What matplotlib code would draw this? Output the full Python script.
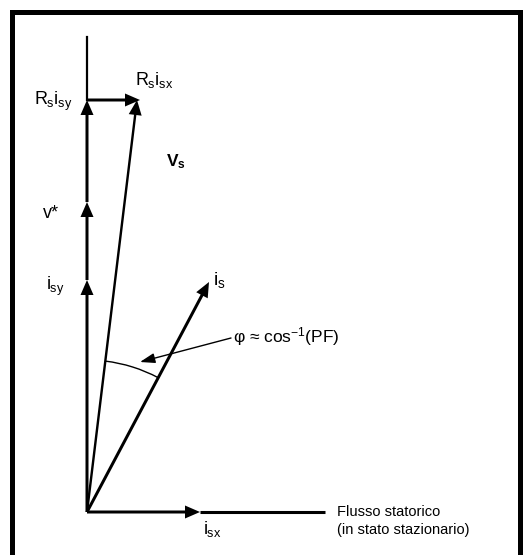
import numpy as np
import matplotlib
matplotlib.use("Agg")
import matplotlib.pyplot as plt
from matplotlib.patches import Arc

plt.rcParams["font.family"] = "Liberation Sans"
plt.rcParams["mathtext.fontset"] = "custom"
plt.rcParams["mathtext.rm"] = "Liberation Sans"
plt.rcParams["mathtext.it"] = "Liberation Sans"
plt.rcParams["mathtext.bf"] = "Liberation Sans:bold"

# phasor components (diagram units, origin = stator axes origin)
i_sx = 113
i_sy = 232
v_star = 310
rs_isy = 412
rs_isx = 53
v_s = (50, 412)
i_s = (122, 230)
axis_x_len = 238
axis_y_len = 475
arc_radius = 152

fig = plt.figure(figsize=(5.23, 5.55), dpi=100)
ax = fig.add_axes([0, 0, 1, 1])
ax.set_xlim(-87, 436)
ax.set_ylim(-43, 512)
ax.axis("off")

head = dict(width=3, head_width=13, head_length=15,
            length_includes_head=True, color="black", lw=0)

# vertical (y) axis with the stacked components
ax.plot([0, 0], [rs_isy, axis_y_len], color="black", lw=1.6)
ax.arrow(0, 0, 0, i_sy, **head)
ax.arrow(0, i_sy, 0, v_star - i_sy, **head)
ax.arrow(0, v_star, 0, rs_isy - v_star, **head)

# horizontal axis (stator flux)
ax.plot([i_sx, axis_x_len], [0, 0], color="black", lw=2.2, solid_capstyle="butt")
ax.arrow(0, 0, i_sx, 0, **head)

# Rs*isx drop
ax.arrow(0, rs_isy, rs_isx, 0, **head)

# Vs and is phasors
ax.arrow(0, 0, v_s[0], v_s[1], **dict(head, width=2.4))
ax.arrow(0, 0, i_s[0], i_s[1], **head)

# angle between them
a_is = np.degrees(np.arctan2(i_s[1], i_s[0]))
a_vs = np.degrees(np.arctan2(v_s[1], v_s[0]))
ax.add_patch(Arc((0, 0), 2 * arc_radius, 2 * arc_radius, theta1=a_is, theta2=a_vs,
                 color="black", lw=1.0))
ax.annotate("", xy=(53, 150), xytext=(144, 174),
            arrowprops=dict(arrowstyle="-|>,head_length=0.9,head_width=0.3",
                            color="black", lw=1.0, shrinkA=0, shrinkB=0))

fs = 13
ax.text(146, 175, "φ ≈ cos$^{-1}$(PF)", fontsize=12.5, va="center", ha="left")
ax.text(48, 432, r"$R_s i_{sx}$", fontsize=fs, va="center", ha="left")
ax.text(79, 350, r"$\mathbf{V_s}$", fontsize=12.5, va="center", ha="left")
ax.text(-15, 411, r"$R_s i_{sy}$", fontsize=fs, va="center", ha="right")
ax.text(-28, 299, "v*", fontsize=fs, va="center", ha="right")
ax.text(-22, 226, r"$i_{sy}$", fontsize=fs, va="center", ha="right")
ax.text(126, 232, r"$i_s$", fontsize=14, va="center", ha="left")
ax.text(116, -17, r"$i_{sx}$", fontsize=fs, va="center", ha="left")
ax.text(250, -9, "Flusso statorico\n(in stato stazionario)", fontsize=10.5,
        va="center", ha="left", linespacing=1.45)

# black frame
ax.plot([-75, -75, 433, 433], [-60, 500, 500, -60], color="black", lw=3.6,
        solid_joinstyle="miter", clip_on=False)

fig.savefig("out.png", dpi=100)
